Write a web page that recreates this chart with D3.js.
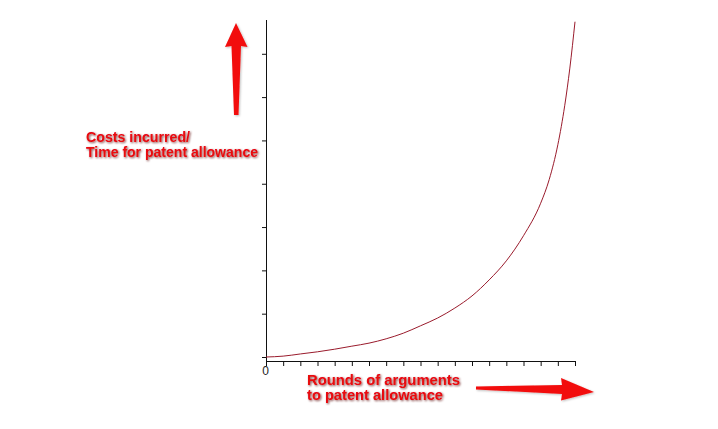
<!DOCTYPE html>
<html>
<head>
<meta charset="utf-8">
<script src="https://cdn.jsdelivr.net/npm/d3@7"></script>
<style>
  html, body { margin: 0; padding: 0; background: #fff; }
  svg { display: block; }
</style>
</head>
<body>
<script>
// Data (x: rounds of arguments, y: cost/time in tick units)
const rounds = [0, 1, 2, 3, 4, 5, 6, 7, 8, 9, 10, 11, 12, 13, 14, 15, 16, 16.5, 17, 17.4, 17.7, 18];
const costs  = [0, 0.02, 0.07, 0.12, 0.18, 0.25, 0.32, 0.42, 0.55, 0.72, 0.90, 1.13, 1.41, 1.78, 2.22, 2.8, 3.55, 4.1, 4.9, 5.8, 6.67, 7.74];
const xTickValues = d3.range(0, 19);
const yTickValues = d3.range(0, 8);
const xTickLabels = ["0"];
const yLabelLines = ["Costs incurred/", "Time for patent allowance"];
const xLabelLines = ["Rounds of arguments", "to patent allowance"];

const W = 718, H = 429;
const svg = d3.select("body").append("svg").attr("width", W).attr("height", H);

const defs = svg.append("defs");
const f = defs.append("filter").attr("id", "shadow").attr("x", "-10%").attr("y", "-30%").attr("width", "130%").attr("height", "170%");
f.append("feDropShadow").attr("dx", 1).attr("dy", 1).attr("stdDeviation", 0.8).attr("flood-color", "#5a1010").attr("flood-opacity", 0.75);
const fa = defs.append("filter").attr("id", "ashadow").attr("x", "-30%").attr("y", "-30%").attr("width", "160%").attr("height", "160%");
fa.append("feDropShadow").attr("dx", 1).attr("dy", 1).attr("stdDeviation", 1.2).attr("flood-color", "#000").attr("flood-opacity", 0.25);

const x = d3.scaleLinear().domain([0, 18]).range([266, 575]);
const y = d3.scaleLinear().domain([0, 7.78]).range([357, 20]);
const xAxisY = 361;

// X axis
const xAxis = d3.axisBottom(x)
  .tickValues(xTickValues)
  .tickSize(5)
  .tickSizeOuter(0)
  .tickFormat((d, i) => xTickLabels[i] || "");
const gx = svg.append("g").attr("transform", `translate(0,${xAxisY})`).call(xAxis);
gx.select(".domain").attr("stroke", "#111");
gx.selectAll(".tick line").attr("stroke", "#111");
gx.selectAll(".tick text")
  .attr("y", 5).attr("dx", -1)
  .attr("font-family", "Liberation Sans, Arial, sans-serif")
  .attr("font-size", 12).attr("fill", "#222");

// Y axis
const yAxis = d3.axisLeft(y)
  .tickValues(yTickValues)
  .tickSize(4)
  .tickSizeOuter(0)
  .tickFormat("");
const gy = svg.append("g").attr("transform", `translate(266,0)`).call(yAxis);
gy.select(".domain").remove();
gy.selectAll(".tick line").attr("stroke", "#111");
svg.append("line")
  .attr("x1", 266.5).attr("x2", 266.5)
  .attr("y1", y(7.78)).attr("y2", xAxisY + 0.5)
  .attr("stroke", "#111");

// Curve
const line = d3.line()
  .x((d, i) => x(rounds[i]))
  .y(d => y(d))
  .curve(d3.curveMonotoneX);
svg.append("path")
  .datum(costs)
  .attr("d", line)
  .attr("fill", "none")
  .attr("stroke", "#9a1b2c")
  .attr("stroke-width", 1);

// Arrows
const red = "#f20d0d";
// vertical arrow
svg.append("path")
  .attr("d", "M236,23 L247.5,47 L241,46 L238.5,115 L234,115 L231.5,46 L225,47 Z")
  .attr("fill", red).attr("filter", "url(#ashadow)");
// horizontal arrow
svg.append("path")
  .attr("d", "M476,386.5 L562,385 L561,378 L594,392 L561,400.5 L562,394 L476,389.5 Z")
  .attr("fill", red).attr("filter", "url(#ashadow)");

// Labels
const font = "Liberation Sans, Arial, sans-serif";
const yl = svg.append("g").attr("filter", "url(#shadow)");
yl.selectAll("text").data(yLabelLines).join("text")
  .attr("x", 86)
  .attr("y", (d, i) => 142 + i * 15)
  .attr("font-family", font).attr("font-weight", "bold").attr("font-size", 14)
  .attr("fill", "#e8070d")
  .attr("textLength", (d, i) => [104, 172][i])
  .attr("lengthAdjust", "spacingAndGlyphs")
  .text(d => d);

const xl = svg.append("g").attr("filter", "url(#shadow)");
xl.selectAll("text").data(xLabelLines).join("text")
  .attr("x", 307)
  .attr("y", (d, i) => 385 + i * 15)
  .attr("font-family", font).attr("font-weight", "bold").attr("font-size", 14)
  .attr("fill", "#e8070d")
  .attr("textLength", (d, i) => [153, 136][i])
  .attr("lengthAdjust", "spacingAndGlyphs")
  .text(d => d);
</script>
</body>
</html>
